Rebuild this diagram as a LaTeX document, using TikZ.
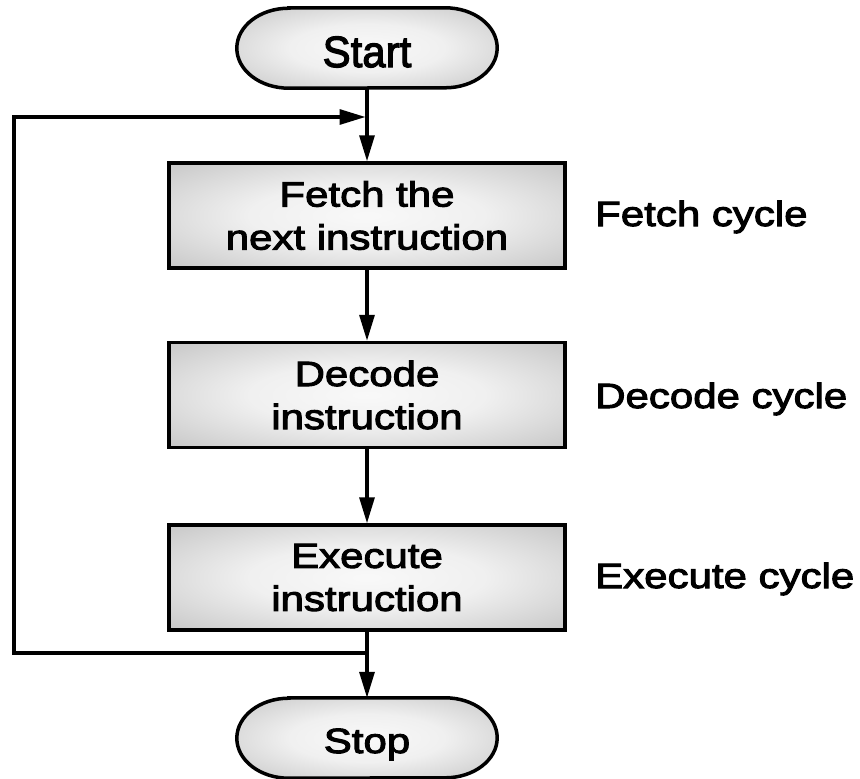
\documentclass[tikz,border=0pt]{standalone}
\usepackage{fontspec}
\usetikzlibrary{arrows.meta,backgrounds}
\newfontfamily\boxfont[FakeStretch=1.2,FakeBold=3]{Liberation Sans}
\pgfdeclareradialshading{boxshade}{\pgfpoint{0bp}{0bp}}{color(0bp)=(gray!5); color(15bp)=(gray!12); color(50bp)=(gray!66); color(72bp)=(gray!72)}
\begin{document}
\begin{tikzpicture}[x=1pt,y=-1pt,
  stepbox/.style={draw=black, line width=3.5pt, shading=boxshade,
    minimum width=396pt, minimum height=105pt, inner sep=0pt,
    align=center, font=\boxfont\fontsize{35}{43}\selectfont},
  pill/.style={minimum width=260pt, minimum height=80pt, inner sep=0pt,
    text depth=0pt, font=\boxfont\fontsize{35}{43}\selectfont},
  pillshape/.style={draw=black, line width=3.5pt, shading=boxshade},
  cyclelabel/.style={anchor=base west, inner sep=0pt, font=\boxfont\fontsize{35}{43}\selectfont},
  conn/.style={draw=black, line width=3.2pt, -{Triangle[length=26pt,width=15pt]}}
]
\useasboundingbox (0,0) rectangle (860,779);

\node[pill, text height=38pt] (start) at (367,48) {\scalebox{1}[1.25]{Start}};
\node[stepbox] (fetch) at (367,215.5) {Fetch the\\next instruction};
\node[stepbox] (decode) at (367,395) {Decode\\instruction};
\node[stepbox] (exec) at (367,577.5) {Execute\\instruction};
\node[pill, text height=30pt] (stop) at (367,738) {Stop};

\node[cyclelabel] (lfetch) at (595,226) {Fetch cycle};
\node[cyclelabel] (ldecode) at (595,408) {Decode cycle};
\node[cyclelabel] (lexec) at (595,588) {Execute cycle};

\begin{scope}[on background layer]
\foreach \n in {start,stop}{
  \path[pillshape] ([xshift=52pt]\n.north west) -- ([xshift=-52pt]\n.north east)
    arc[start angle=90,end angle=-90,x radius=52pt,y radius=40pt]
    -- ([xshift=52pt]\n.south west)
    arc[start angle=270,end angle=90,x radius=52pt,y radius=40pt] -- cycle;
}
\end{scope}

\coordinate (jtop) at (367,117);
\coordinate (jbot) at (367,653);
\coordinate (loopL) at (14,653);

\draw[conn] (start) -- (fetch);
\draw[conn] (fetch) -- (decode);
\draw[conn] (decode) -- (exec);
\draw[conn] (exec) -- (stop);
\draw[conn, shorten >=1.5pt] (jbot) -- (loopL) |- (jtop);
\end{tikzpicture}
\end{document}
